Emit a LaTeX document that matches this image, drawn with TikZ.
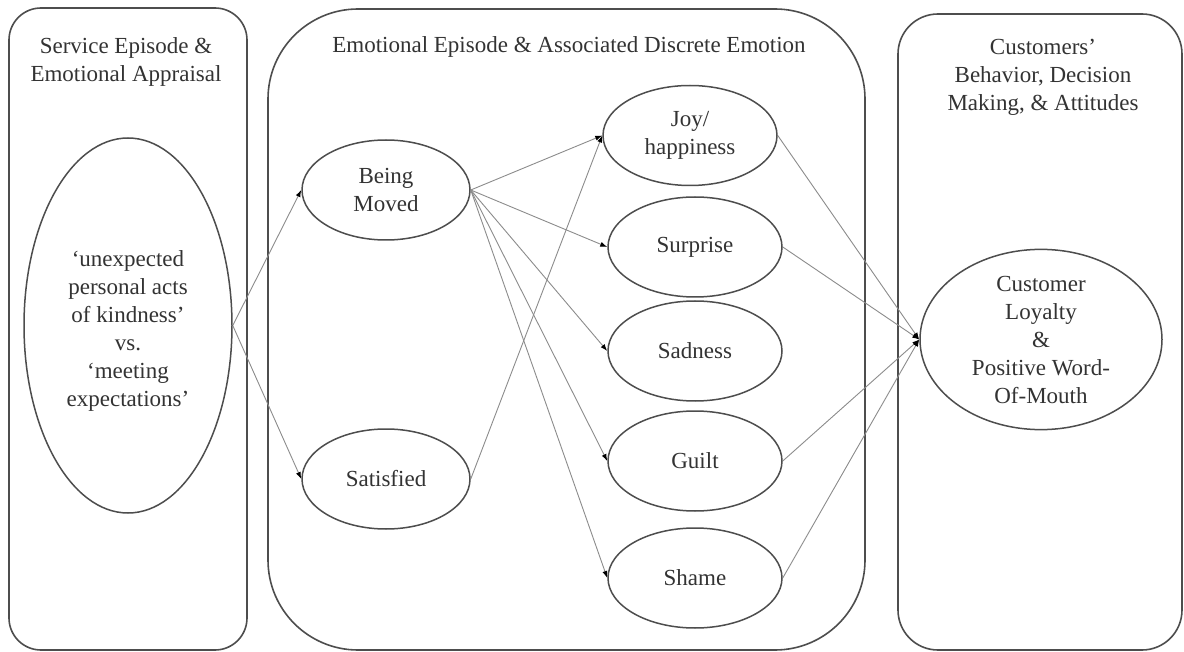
\documentclass[tikz,border=0pt]{standalone}
\usepackage{fontspec}
\setmainfont{Liberation Serif}
\usetikzlibrary{arrows.meta,shapes.geometric}
\definecolor{edgec}{HTML}{4D4D4D}
\definecolor{connc}{HTML}{8C8C8C}
\definecolor{txtc}{HTML}{333333}
\begin{document}
\begin{tikzpicture}[x=1pt,y=-1pt,
  font=\fontsize{23}{28}\selectfont, text=txtc,
  panel/.style={draw=edgec, line width=1.6pt, inner sep=0pt},
  emo/.style={ellipse, draw=edgec, line width=1.5pt, inner sep=0pt,
    minimum width=174pt, minimum height=100pt, align=center},
  title/.style={align=center, inner sep=0pt},
  link/.style={draw=connc, line width=0.9pt,
    -{Latex[length=7pt,width=5pt,color=black]}}]
\useasboundingbox[fill=white] (0,0) rectangle (1184,652);

% panels
\node[panel, rounded corners=32pt, minimum width=238pt, minimum height=642pt] (pL) at (128,329) {};
\node[panel, rounded corners=90pt, minimum width=597pt, minimum height=641pt] (pM) at (566.5,329.5) {};
\node[panel, rounded corners=40pt, minimum width=284pt, minimum height=636pt] (pR) at (1040,332) {};

% titles
\node[title] (tL) at (126,62) {Service Episode \&\\Emotional Appraisal};
\node[title] (tM) at (569,47) {Emotional Episode \& Associated Discrete Emotion};
\node[title] (tR) at (1043,77) {Customers’\\Behavior, Decision\\Making, \& Attitudes};

% appraisal ellipse
\node[ellipse, draw=edgec, line width=1.5pt, inner sep=0pt,
  minimum width=208pt, minimum height=375pt] (appr) at (128,325.5) {};
\node[title] (apprtext) at (128,331) {‘unexpected\\personal acts\\of kindness’\\vs.\\‘meeting\\expectations’};

% emotions
\node[emo, minimum width=168pt] (moved) at (386,190) {Being\\Moved};
\node[emo, minimum width=168pt] (sat) at (386,479) {Satisfied};
\node[emo] (joy) at (690,135.5) {Joy/\\happiness};
\node[emo] (surp) at (695,247) {Surprise};
\node[emo] (sad) at (695,351) {Sadness};
\node[emo] (guilt) at (695,461) {Guilt};
\node[emo] (shame) at (695,578) {Shame};

% outcome
\node[ellipse, draw=edgec, line width=1.5pt, inner sep=0pt, align=center,
  minimum width=242pt, minimum height=147pt] (loyal) at (1041,339.5)
  {Customer\\Loyalty\\\&\\Positive Word-\\Of-Mouth};

% connectors
\draw[link] (appr.east) -- (moved.west);
\draw[link] (appr.east) -- (sat.west);
\foreach \t in {joy,surp,sad,guilt,shame}
  \draw[link] (moved.east) -- (\t.west);
\draw[link] (sat.east) -- (joy.west);
\foreach \s in {joy,surp,guilt,shame}
  \draw[link] (\s.east) -- (loyal.west);
\end{tikzpicture}
\end{document}
